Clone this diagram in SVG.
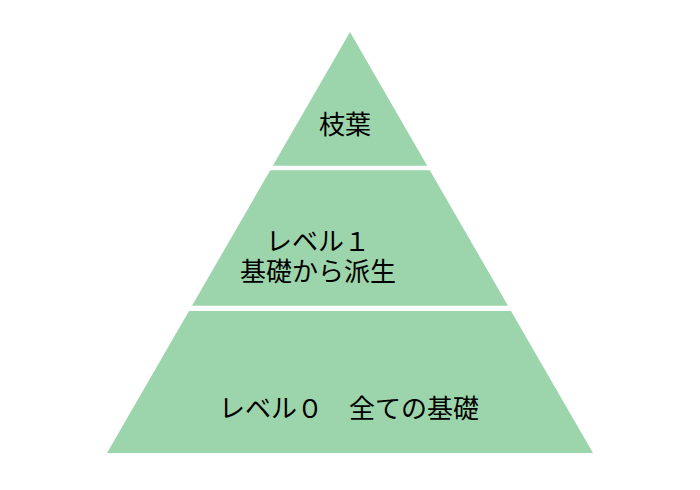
<svg xmlns="http://www.w3.org/2000/svg" width="700" height="490" viewBox="0 0 700 490">
<style>
.tier{fill:#9cd5ab;stroke:none}
.lbl{font-family:"Noto Sans CJK JP","Noto Sans",sans-serif;font-size:26px;fill:#000;text-anchor:middle}
</style>
<rect width="700" height="490" fill="#fff"/>
<g id="connectors"></g>
<g id="tier-top">
<polygon class="tier" points="350,32 427.2,165.7 272.8,165.7"/>
<text class="lbl" x="345" y="134">枝葉</text>
</g>
<g id="tier-level1">
<polygon class="tier" points="270.2,170.3 429.8,170.3 508,305.7 192,305.7"/>
<text class="lbl" x="318" y="250.5">レベル１<tspan x="318" dy="30">基礎から派生</tspan></text>
</g>
<g id="tier-level0">
<polygon class="tier" points="189,311 511,311 593,453 107,453"/>
<text class="lbl" x="349" y="418">レベル０　全ての基礎</text>
</g>
</svg>
